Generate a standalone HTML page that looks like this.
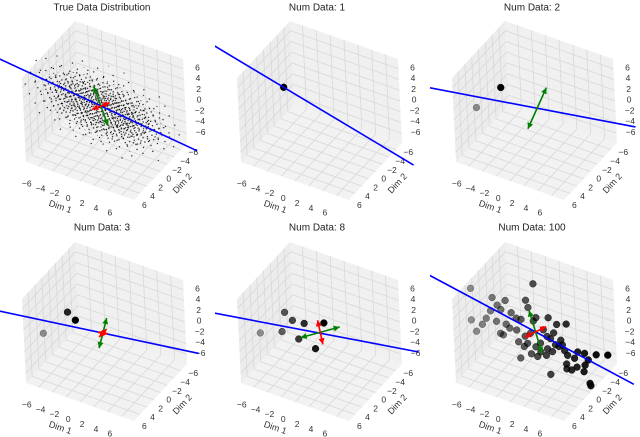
<!DOCTYPE html>
<html><head><meta charset="utf-8"><style>
html,body{margin:0;padding:0;background:#fff;}
svg{display:block;font-family:"Liberation Sans","DejaVu Sans",sans-serif;}
</style></head><body>
<svg id="fig" width="640" height="437" viewBox="0 0 640 437" xmlns="http://www.w3.org/2000/svg">
<defs>
<pattern id="dotsA" patternUnits="userSpaceOnUse" width="7" height="6"><circle cx="1" cy="1" r="0.65" fill="#000"/><circle cx="4.5" cy="3.8" r="0.65" fill="#000"/></pattern>
<pattern id="dotsB" patternUnits="userSpaceOnUse" width="5" height="4.3"><circle cx="0.7" cy="1.2" r="0.65" fill="#000"/><circle cx="3.2" cy="3.1" r="0.65" fill="#000"/></pattern>
<pattern id="dotsD" patternUnits="userSpaceOnUse" width="5.7" height="4.9"><circle cx="2.5" cy="0.6" r="0.65" fill="#000"/><circle cx="0.4" cy="3.4" r="0.65" fill="#000"/></pattern>
<pattern id="dotsC" patternUnits="userSpaceOnUse" width="11" height="9.5"><circle cx="2" cy="3" r="0.65" fill="#000"/><circle cx="8" cy="7.5" r="0.65" fill="#000"/></pattern>
<pattern id="dotsE" patternUnits="userSpaceOnUse" width="17" height="13"><circle cx="5" cy="2" r="0.65" fill="#000"/><circle cx="13" cy="9" r="0.65" fill="#000"/></pattern>
</defs>
</svg>
<script>
// ---- chart data ----
const titles = ["True Data Distribution","Num Data: 1","Num Data: 2","Num Data: 3","Num Data: 8","Num Data: 100"];
const ticks = [-6,-4,-2,0,2,4,6];
// principal-axis line: point and direction per panel
const linePoint = [[-0.5,0,0.6],[-5.1,0,2.0],[0.4,0,0.6],[-0.25,0,-0.4],[0.0,0,-0.3],[0.15,0,0]];
const lineDir = [[1,0.15,0],[1,0.3,0],[1,-0.26,0],[1,-0.22,0],[1,-0.26,0],[1,0.23,0]];
const lineExtent = [15,22,12.6,12.5,12.7,16];
// eigen-arrows (center + half vectors)
const arrowCenter = [[-0.5,0,0.6],null,[0.4,0,0.6],[-0.25,0,-0.4],[0.1,0,-0.1],[0.15,0,0]];
const greenVec = [[0.9,0,-3.2],null,[1.5,0,4.5],[0.66,0,3.1],[2.9,0,2.3],[0.8,0,-3.6]];
const redVec = [[1.3,0,1.2],null,null,[0.7,0,0.2],[0.3,0,-2.1],[1.6,0,1.7]];
const redVec2 = [null,null,null,[0,1.1,0],null,null];
// observed data points (x, y=0, z) per panel
const ptsX = [[],[-5.1],[-4.8,-8.5],[-5.3,-4.2,-9.0],[-5.0,-8.7,-3.9,-2.2,0.7,-5.5,-3.1,-0.7],
 [-9.1,0.1,-6.0,-5.3,-4.1,-1.1,-0.8,-9.2,-7.6,-8.5,-6.3,-4.8,-3.3,-2.6,-1.9,-4.1,-5.0,-4.6,-3.6,-2.6,-2.4,-1.4,-1.1,-0.6,-0.1,0.3,2.1,3.3,4.7,1.3,1.8,2.3,2.8,3.0,3.5,4.0,1.8,0.8,0.3,-0.6,-2.2,1.6,2.5,4.3,4.7,5.7,6.2,7.2,4.5,7.7,8.9,10.6,4.5,5.2,6.0,7.2,7.0,7.8,7.9,2.1,-5.5,-7.0,-1.6,0.8,3.8,0.1]];
const ptsZ = [[],[2.0],[2.1,-3.3],[1.2,0.2,-4.4],[1.3,-4.2,0.3,0.5,1.9,-2.5,-2.8,-3.5],
 [3.9,8.9,3.6,2.5,3.9,5.3,4.1,-2.0,-2.1,-3.8,1.0,1.9,2.0,1.3,1.4,-0.5,-2.6,-2.7,-1.0,-0.9,-3.0,-1.5,-2.7,-0.6,1.9,2.7,3.5,2.8,3.5,0.9,-0.1,-0.3,1.0,-1.1,-1.2,-0.7,-2.4,-3.4,-4.5,-4.4,-5.9,-3.7,-2.6,-1.6,-2.3,-2.4,-1.0,-0.8,-4.0,-1.8,-0.3,0.4,-4.9,-4.8,-3.9,-3.0,-4.3,-6.1,-6.5,-7.0,-0.6,-0.7,-3.5,-1.8,0.1,-2.8]];

// ---- projection ----
const NS="http://www.w3.org/2000/svg";
const svg=document.getElementById('fig');
const origins=[[0,0],[215,0],[430,0],[0,221],[215,221],[430,221]];
const R=7.8, C=[104.5,110.5], EX=[54,19], EY=[-26.5,28.5], EZ=[-2,-42];
function P(o,x,y,z){return [o[0]+C[0]+(x*EX[0]+y*EY[0]+z*EZ[0])/R, o[1]+C[1]+(x*EX[1]+y*EY[1]+z*EZ[1])/R];}
function mk(tag,attrs,parent){const e=document.createElementNS(NS,tag);for(const k in attrs)e.setAttribute(k,attrs[k]);(parent||svg).appendChild(e);return e;}
function poly(pts){return pts.map(p=>p[0].toFixed(1)+','+p[1].toFixed(1)).join(' ');}
function fmt(t){return t<0?'\u2212'+(-t):''+t;}

function arrow(g,o,c,v,color,name){
  const a=P(o,c[0]-v[0],c[1]-v[1],c[2]-v[2]), b=P(o,c[0]+v[0],c[1]+v[1],c[2]+v[2]);
  const ln=mk('line',{x1:a[0],y1:a[1],x2:b[0],y2:b[1],stroke:color,'stroke-width':1.6},g);
  
  
  [[a,b],[b,a]].forEach(([tip,from])=>{
    const dx=tip[0]-from[0],dy=tip[1]-from[1],L=Math.hypot(dx,dy)||1,ux=dx/L,uy=dy/L;
    const h=6,w=3;
    const bx=tip[0]-ux*h,by=tip[1]-uy*h;
    const hd=mk('polygon',{points:poly([tip,[bx-uy*w,by+ux*w],[bx+uy*w,by-ux*w]]),fill:color},g);
    
    
  });
}

origins.forEach((o,i)=>{
  const g=mk('g',{});
  
  
  const clipId='clip'+i;
  const cp=mk('clipPath',{id:clipId},g);
  mk('rect',{x:o[0],y:o[1],width:213,height:218},cp);
  // panes
  const floor=mk('polygon',{points:poly([P(o,-R,-R,-R),P(o,R,-R,-R),P(o,R,R,-R),P(o,-R,R,-R)]),fill:'#f2f2f2'},g);
  
  
  const wx=mk('polygon',{points:poly([P(o,-R,-R,-R),P(o,-R,R,-R),P(o,-R,R,R),P(o,-R,-R,R)]),fill:'#ececec'},g);
  
  
  const wy=mk('polygon',{points:poly([P(o,-R,-R,-R),P(o,R,-R,-R),P(o,R,-R,R),P(o,-R,-R,R)]),fill:'#f0f0f0'},g);
  
  
  const grid=mk('g',{stroke:'#d8d8d8','stroke-width':0.8},g);
  
  
  ticks.forEach(t=>{
    [[P(o,t,-R,-R),P(o,t,R,-R)],[P(o,-R,t,-R),P(o,R,t,-R)],[P(o,-R,t,-R),P(o,-R,t,R)],[P(o,-R,-R,t),P(o,-R,R,t)],[P(o,t,-R,-R),P(o,t,-R,R)],[P(o,-R,-R,t),P(o,R,-R,t)]]
    .forEach(([a,b])=>mk('line',{x1:a[0],y1:a[1],x2:b[0],y2:b[1]},grid));
  });
  // tick labels
  const tl=mk('g',{'font-size':'8.5','fill':'#333','text-anchor':'middle','dominant-baseline':'central'},g);
  
  
  ticks.forEach(t=>{
    const px=P(o,t,1.45*R,-1.1*R), py=P(o,1.15*R,t*1.2,-1.1*R), pz=P(o,1.15*R,-1.15*R,t);
    const a=mk('text',{x:px[0],y:px[1]},tl);a.textContent=fmt(t);
    
    
    const b=mk('text',{x:py[0],y:py[1]},tl);b.textContent=fmt(t);
    
    
    const c=mk('text',{x:pz[0]+2,y:pz[1]},tl);c.textContent=fmt(t);
    
    
  });
  const d1=P(o,0,1.75*R,-1.1*R), d2=P(o,1.4*R,0,-1.1*R);
  const l1=mk('text',{x:d1[0],y:d1[1],'font-size':'9','fill':'#333','text-anchor':'middle','dominant-baseline':'central',transform:`rotate(19 ${d1[0]} ${d1[1]})`},g);
  l1.textContent='Dim 1';
  
  
  const l2=mk('text',{x:d2[0],y:d2[1],'font-size':'9','fill':'#333','text-anchor':'middle','dominant-baseline':'central',transform:`rotate(-47 ${d2[0]} ${d2[1]})`},g);
  l2.textContent='Dim 2';
  
  
  const ti=mk('text',{x:o[0]+102,y:o[1]+(i<3?8:7),'font-size':'10','fill':'#222','text-anchor':'middle','dominant-baseline':'central'},g);
  ti.textContent=titles[i];
  
  

  const content=mk('g',{'clip-path':`url(#${clipId})`},g);
  
  
  if(i===0){
    const cc=P(o,-0.3,0,0.2);
    const cl=mk('g',{transform:`rotate(25 ${cc[0]} ${cc[1]})`},content);
    
    
    mk('ellipse',{cx:cc[0],cy:cc[1],rx:88,ry:42,fill:'url(#dotsE)'},cl);
    mk('ellipse',{cx:cc[0],cy:cc[1],rx:76,ry:33,fill:'url(#dotsC)'},cl);
    mk('ellipse',{cx:cc[0],cy:cc[1],rx:66,ry:27,fill:'url(#dotsA)'},cl);
    mk('ellipse',{cx:cc[0],cy:cc[1],rx:52,ry:21,fill:'url(#dotsD)'},cl);
    mk('ellipse',{cx:cc[0],cy:cc[1],rx:38,ry:15,fill:'url(#dotsB)'},cl);
  }
  // points
  const xs=ptsX[i], zs=ptsZ[i];
  if(xs.length){
    const mn=Math.min(...xs), mx=Math.max(...xs);
    xs.map((x,k)=>k).sort((a,b)=>xs[a]-xs[b]).forEach(k=>{
      const p=P(o,xs[k],0,zs[k]);
      const f=mx>mn?(xs[k]-mn)/(mx-mn):1;
      const c=mk('circle',{cx:p[0],cy:p[1],r:3.4,fill:'#000','fill-opacity':(0.4+0.6*f).toFixed(2),stroke:'#000','stroke-opacity':(0.4+0.6*f).toFixed(2),'stroke-width':0.5},content);
      
      
    });
  }
  // line
  const lp=linePoint[i], ld=lineDir[i], e=lineExtent[i];
  const a=P(o,lp[0]-ld[0]*30,lp[1]-ld[1]*30,lp[2]-ld[2]*30), b=P(o,lp[0]+ld[0]*e,lp[1]+ld[1]*e,lp[2]+ld[2]*e);
  const ln=mk('line',{x1:a[0],y1:a[1],x2:b[0],y2:b[1],stroke:'#0000ff','stroke-width':1.6},content);
  
  
  if(arrowCenter[i]){
    if(greenVec[i]) arrow(content,o,arrowCenter[i],greenVec[i],'#008000','green-eigen-arrow');
    if(redVec[i]) arrow(content,o,arrowCenter[i],redVec[i],'#ff0000','red-eigen-arrow');
    if(redVec2[i]) arrow(content,o,arrowCenter[i],redVec2[i],'#ff0000','red-eigen-arrow-2');
  }
});
</script>
</body></html>
